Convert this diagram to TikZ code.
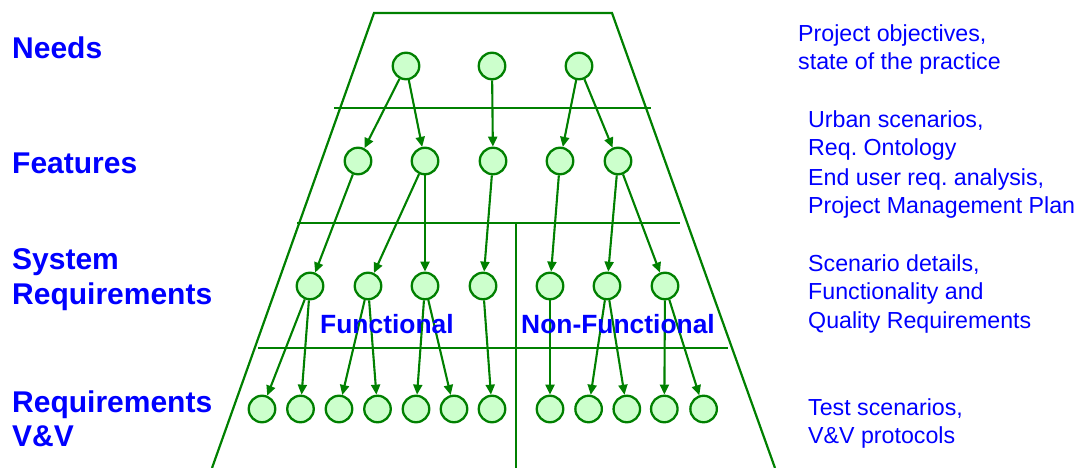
\documentclass[tikz,border=0pt]{standalone}
\usepackage{fontspec}
\setmainfont{Liberation Sans}
\usetikzlibrary{arrows.meta}
\definecolor{lgreen}{HTML}{008000}
\definecolor{lfill}{HTML}{CCFFCC}
\definecolor{tblue}{HTML}{0000FF}
\frenchspacing

\begin{document}
\begin{tikzpicture}[x=1pt,y=-1pt,
  req/.style={circle,draw=lgreen,fill=lfill,line width=2.3pt,minimum size=26.5pt,inner sep=0pt},
  flow/.style={draw=lgreen,line width=2.1pt,-{Triangle[length=10pt,width=9pt]}},
  frame/.style={draw=lgreen,line width=2.2pt},
  level/.style={font=\fontsize{30}{36}\selectfont\bfseries,text=tblue,anchor=base west,inner sep=0pt},
  note/.style={font=\fontsize{23.2}{28}\selectfont,text=tblue,anchor=base west,inner sep=0pt},
  part/.style={font=\fontsize{26.4}{32}\selectfont\bfseries,text=tblue,anchor=base west,inner sep=0pt}]

\useasboundingbox (0,0) rectangle (1084,468);

% pyramid outline, level separators and the functional / non-functional split
\draw[frame] (212,468) -- (374,13) -- (612,13) -- (775,468);
\draw[frame] (334,108) -- (651,108);
\draw[frame] (297,223) -- (680,223);
\draw[frame] (258,348) -- (728,348);
\draw[frame] (516,223) -- (516,468);

% needs
\node[req] (n1) at (406,66) {};
\node[req] (n2) at (492,66) {};
\node[req] (n3) at (579,66) {};

% features
\node[req] (f1) at (358,161) {};
\node[req] (f2) at (425,161) {};
\node[req] (f3) at (493,161) {};
\node[req] (f4) at (560,161) {};
\node[req] (f5) at (618,161) {};

% system requirements
\node[req] (s1) at (310,286) {};
\node[req] (s2) at (368,286) {};
\node[req] (s3) at (425,286) {};
\node[req] (s4) at (483,286) {};
\node[req] (s5) at (550,286) {};
\node[req] (s6) at (607,286) {};
\node[req] (s7) at (665,286) {};

% verification and validation items
\node[req] (v1) at (262,409) {};
\node[req] (v2) at (300.5,409) {};
\node[req] (v3) at (339,409) {};
\node[req] (v4) at (377.5,409) {};
\node[req] (v5) at (416,409) {};
\node[req] (v6) at (454,409) {};
\node[req] (v7) at (492,409) {};
\node[req] (v8) at (550,409) {};
\node[req] (v9) at (588.6,409) {};
\node[req] (v10) at (626.8,409) {};
\node[req] (v11) at (664.3,409) {};
\node[req] (v12) at (703.6,409) {};

% traceability links
\draw[flow] (n1) -- (f1);
\draw[flow] (n1) -- (f2);
\draw[flow] (n2) -- (f3);
\draw[flow] (n3) -- (f4);
\draw[flow] (n3) -- (f5);

\draw[flow] (f1) -- (s1);
\draw[flow] (f2) -- (s2);
\draw[flow] (f2) -- (s3);
\draw[flow] (f3) -- (s4);
\draw[flow] (f4) -- (s5);
\draw[flow] (f5) -- (s6);
\draw[flow] (f5) -- (s7);

\draw[flow] (s1) -- (v1);
\draw[flow] (s1) -- (v2);
\draw[flow] (s2) -- (v3);
\draw[flow] (s2) -- (v4);
\draw[flow] (s3) -- (v5);
\draw[flow] (s3) -- (v6);
\draw[flow] (s4) -- (v7);
\draw[flow] (s5) -- (v8);
\draw[flow] (s6) -- (v9);
\draw[flow] (s6) -- (v10);
\draw[flow] (s7) -- (v11);
\draw[flow] (s7) -- (v12);

% category labels inside the pyramid
\node[part] (fun) at (320,333) {Functional};
\node[part] (nfun) at (521,333) {Non-Functional};

% level names
\node[level] (l1) at (12,59) {Needs};
\node[level] (l2) at (12,173) {Features};
\node[level] (l3a) at (12,269) {System};
\node[level] (l3b) at (12,304) {Requirements};
\node[level] (l4a) at (12,412) {Requirements};
\node[level] (l4b) at (12,446) {V\&V};

% sources of each level
\node[note] (a1) at (798,42) {Project objectives,};
\node[note] (a2) at (798,70) {state of the practice};
\node[note] (b1) at (808,128) {Urban scenarios,};
\node[note] (b2) at (808,156) {Req. Ontology};
\node[note] (b3) at (808,185) {End user req. analysis,};
\node[note] (b4) at (808,213) {Project Management Plan};
\node[note] (c1) at (808,271) {Scenario details,};
\node[note] (c2) at (808,299) {Functionality and};
\node[note] (c3) at (808,328) {Quality Requirements};
\node[note] (d1) at (808,415) {Test scenarios,};
\node[note] (d2) at (808,443) {V\&V protocols};
\end{tikzpicture}
\end{document}
